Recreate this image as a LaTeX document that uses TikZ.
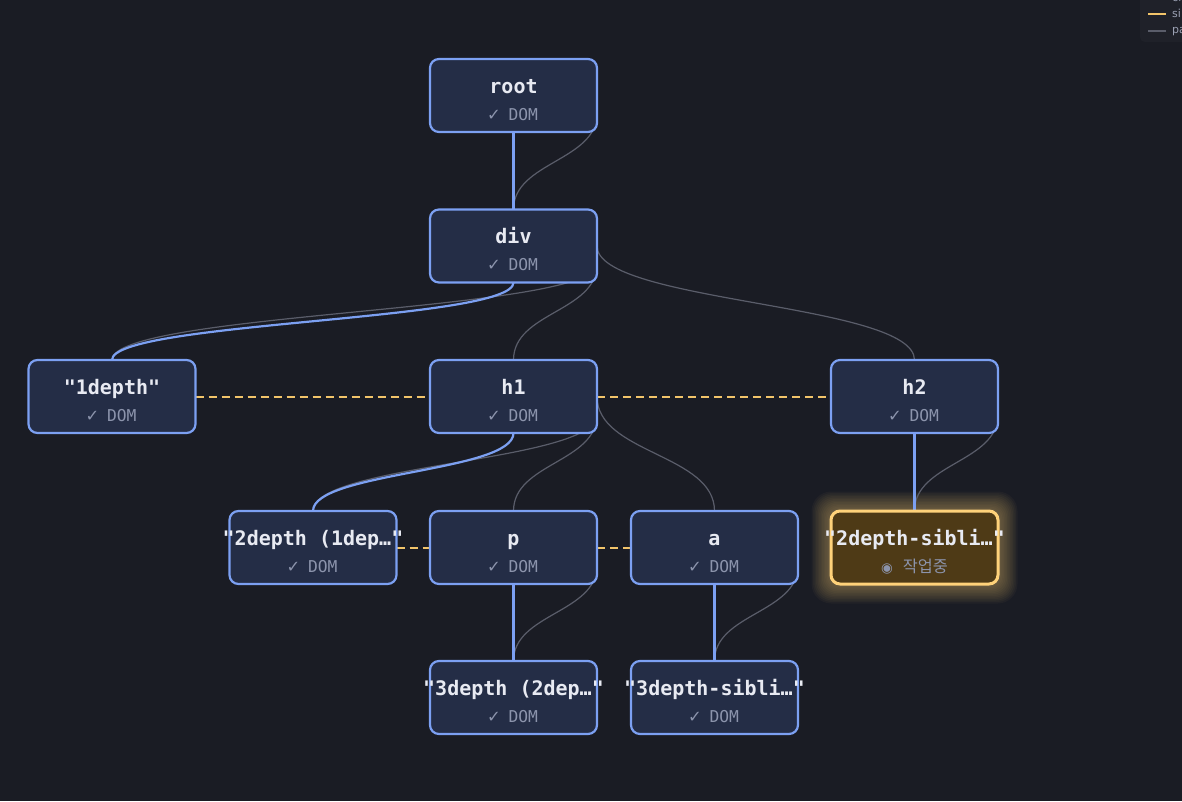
\documentclass[tikz,border=0pt]{standalone}
\usepackage{fontspec}
\setmonofont{DejaVu Sans Mono}
\newfontfamily\symf{DejaVu Sans}
\newfontfamily\krf{Noto Sans CJK KR}
\usetikzlibrary{calc}
\definecolor{bg}{HTML}{1A1C24}
\definecolor{nodefill}{HTML}{242D46}
\definecolor{nodeborder}{HTML}{7CA0F2}
\definecolor{titlecol}{HTML}{E8EAF2}
\definecolor{subcol}{HTML}{8C94AC}
\definecolor{sibcol}{HTML}{F2C46A}
\definecolor{parcol}{HTML}{5A5D6A}
\definecolor{activefill}{HTML}{4E3A16}
\definecolor{activeborder}{HTML}{FFD27A}
\definecolor{legendfill}{HTML}{1F2129}
\definecolor{legendtext}{HTML}{9AA0B2}
\pgfdeclarelayer{bgfill}
\pgfdeclarelayer{edges}
\pgfsetlayers{bgfill,edges,main}
\newcommand\fnode[6][fiber]{%
  \node[#1] (#2) at (#3,#4) {};
  \node[titletext] (#2-t) at ($(#2.center)+(0,-2.5)$) {#5};
  \node[subtext] (#2-s) at ($(#2.center)+(0,24.5)$) {#6};
}
\newcommand\domtxt{\makebox[0.602em]{\symf ✓}~DOM}
\begin{document}
\begin{tikzpicture}[x=1pt,y=-1pt,
  fiber/.style={draw=nodeborder, fill=nodefill, line width=2.2pt, rounded corners=9pt,
    minimum width=167pt, minimum height=73pt, inner sep=0pt, outer sep=0pt},
  activefiber/.style={fiber, draw=activeborder, fill=activefill, line width=3pt},
  titletext/.style={anchor=base, font=\ttfamily\bfseries\fontsize{20}{21}\selectfont, text=titlecol, inner sep=0pt},
  subtext/.style={anchor=base, font=\ttfamily\fontsize{16.3}{17}\selectfont, text=subcol, inner sep=0pt},
  childedge/.style={draw=nodeborder, line width=2.2pt},
  parentedge/.style={draw=parcol, line width=1.2pt},
  sibedge/.style={draw=sibcol, line width=2pt, dash pattern=on 8pt off 5pt},
  legtext/.style={anchor=west, font=\symf\fontsize{11}{12}\selectfont, text=legendtext, inner sep=0pt}
]
\useasboundingbox (0,0) rectangle (1182,801);
\begin{pgfonlayer}{bgfill}
  \fill[bg] (0,0) rectangle (1182,801);
\end{pgfonlayer}

% nodes
\fnode{root}{513.5}{95.5}{root}{\domtxt}
\fnode{div}{513.5}{246}{div}{\domtxt}
\fnode{d1}{112}{396.5}{"1depth"}{\domtxt}
\fnode{h1}{513.5}{396.5}{h1}{\domtxt}
\fnode{h2}{914.5}{396.5}{h2}{\domtxt}
\fnode{d2}{313}{547.5}{"2depth (1dep…"}{\domtxt}
\fnode{p}{513.5}{547.5}{p}{\domtxt}
\fnode{a}{714.5}{547.5}{a}{\domtxt}
\fnode[activefiber]{sib2}{914.5}{547.5}{"2depth-sibli…"}{{\symf\fontsize{13.5}{14}\selectfont ◉}~{\krf 작업중}}
\fnode{d3}{513.5}{697.5}{"3depth (2dep…"}{\domtxt}
\fnode{d3s}{714.5}{697.5}{"3depth-sibli…"}{\domtxt}

\begin{pgfonlayer}{edges}
  % soft glow of the active node
  \foreach \g in {1.5,3,...,19.5}{
    \fill[activeborder, opacity=0.035, rounded corners=10pt+\g*0.5pt]
      ($(sib2.south west)+(-\g,\g)$) rectangle ($(sib2.north east)+(\g,-\g)$);
  }
  % parent (return) edges
  \draw[parentedge] ($(root.east)+(0,18)$) .. controls +(0,47.5) and +(0,-47.5) .. (div.north);
  \draw[parentedge] ($(div.east)+(0,18)$) .. controls +(0,48) and +(0,-48) .. (h1.north);
  \draw[parentedge] (div.east) .. controls +(0,57) and +(0,-57) .. (h2.north);
  \draw[parentedge] ($(div.east)+(0,18)$) .. controls +(0,48) and +(0,-48) .. (d1.north);
  \draw[parentedge] ($(h1.east)+(0,18)$) .. controls +(0,48) and +(0,-48) .. (d2.north);
  \draw[parentedge] ($(h1.east)+(0,18)$) .. controls +(0,48) and +(0,-48) .. (p.north);
  \draw[parentedge] (h1.east) .. controls +(0,57) and +(0,-57) .. (a.north);
  \draw[parentedge] ($(h2.east)+(0,18)$) .. controls +(0,48) and +(0,-48) .. (sib2.north);
  \draw[parentedge] ($(p.east)+(0,18)$) .. controls +(0,47.5) and +(0,-47.5) .. (d3.north);
  \draw[parentedge] ($(a.east)+(0,18)$) .. controls +(0,47.5) and +(0,-47.5) .. (d3s.north);
  % child edges
  \draw[childedge] (root.south) -- (div.north);
  \draw[childedge] (div.south) .. controls +(0,38.5) and +(0,-38.5) .. (d1.north);
  \draw[childedge] (h1.south) .. controls +(0,39) and +(0,-39) .. (d2.north);
  \draw[childedge] (h2.south) -- (sib2.north);
  \draw[childedge] (p.south) -- (d3.north);
  \draw[childedge] (a.south) -- (d3s.north);
  % sibling edges
  \draw[sibedge] (d1.east) -- (h1.west);
  \draw[sibedge] (h1.east) -- (h2.west);
  \draw[sibedge] (d2.east) -- (p.west);
  \draw[sibedge] (p.east) -- (a.west);
\end{pgfonlayer}

% legend (cut by the picture's edge, as in the reference)
\begin{scope}
  \clip (0,0) rectangle (1182,801);
  \fill[legendfill, rounded corners=5pt] (1140,-20) rectangle (1200,42);
  \coordinate (lc1) at (1148,-3);
  \coordinate (lc2) at (1166,-3);
  \coordinate (ls1) at (1148,14);
  \coordinate (ls2) at (1166,14);
  \coordinate (lp1) at (1148,31);
  \coordinate (lp2) at (1166,31);
  \draw[draw=nodeborder, line width=2pt] (lc1) -- (lc2);
  \draw[draw=sibcol, line width=2pt] (ls1) -- (ls2);
  \draw[draw=parcol, line width=2pt] (lp1) -- (lp2);
  \node[legtext] (lct) at (1172,-3) {child};
  \node[legtext] (lst) at (1172,14) {sibling};
  \node[legtext] (lpt) at (1172,31) {parent};
\end{scope}
\end{tikzpicture}
\end{document}
